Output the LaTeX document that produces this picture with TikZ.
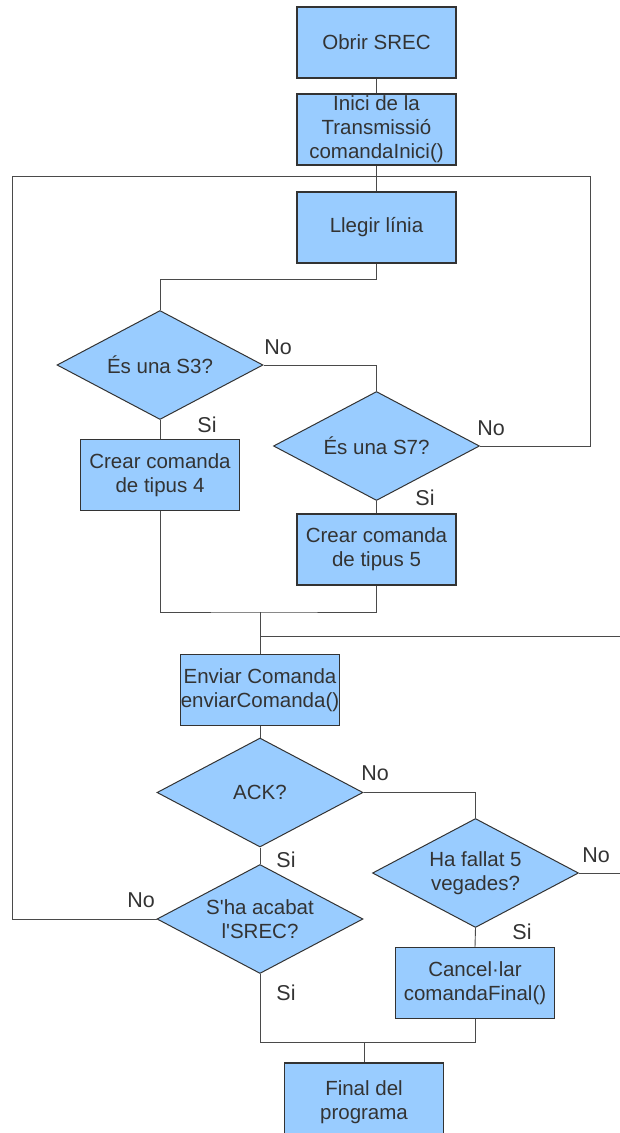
\documentclass[tikz,border=0pt]{standalone}
\usepackage{fontspec}
\setmainfont{Liberation Sans}
\usetikzlibrary{shapes.geometric}
\definecolor{boxblue}{HTML}{99CCFF}
\definecolor{ink}{HTML}{333333}
\definecolor{wire}{HTML}{4A4A4A}
\begin{document}
\begin{tikzpicture}[x=1pt,y=-1pt,
  every node/.style={text=ink,font=\fontsize{20.5}{24}\selectfont},
  stepbox/.style={draw=ink,line width=1.1pt,fill=boxblue,minimum width=159pt,
    minimum height=71pt,inner sep=0pt,align=center},
  decision/.style={draw=ink,line width=1pt,fill=boxblue,diamond,shape aspect=1.9,
    minimum width=206pt,minimum height=109pt,inner sep=0pt,align=center},
  answer/.style={font=\fontsize{21.5}{24}\selectfont,inner sep=0pt},
  wire/.style={draw=wire,line width=0.9pt}]
\useasboundingbox (0,0) rectangle (620,1133);

% process boxes
\node[stepbox] (obrir)  at (376.5,42.5) {Obrir SREC};
\node[stepbox] (inici)  at (376.5,129.5) {Inici de la\\Transmissió\\comandaInici()};
\node[stepbox] (llegir) at (376.5,227.5) {Llegir línia};
\node[stepbox] (crear4) at (160,475) {Crear comanda\\de tipus 4};
\node[stepbox] (crear5) at (376.5,549.5) {Crear comanda\\de tipus 5};
\node[stepbox] (enviar) at (260,690) {Enviar Comanda\\enviarComanda()};
\node[stepbox] (cancel) at (475,983) {Cancel·lar\\comandaFinal()};
\node[stepbox,minimum height=78pt] (final) at (364,1102) {Final del\\programa};

% decisions
\node[decision] (s3)   at (160,365)   {És una S3?};
\node[decision] (s7)   at (376.5,446) {És una S7?};
\node[decision] (ack)  at (260,792.5) {ACK?};
\node[decision] (acab) at (260,919)   {S\textquotesingle ha acabat\\l\textquotesingle SREC?};
\node[decision] (fail) at (475.5,873) {Ha fallat 5\\vegades?};

% junction and edge points
\coordinate (loopTR) at (590,176);
\coordinate (loopTL) at (12,176);
\coordinate (loopBL) at (12,919);
\coordinate (mergeA) at (260,612);
\coordinate (retry)  at (260,636);
\coordinate (retryE) at (620,636);
\coordinate (failE)  at (620,873);
\coordinate (mergeB) at (364,1042);

% connectors
\draw[wire] (obrir.south) -- (inici.north);
\draw[wire] (inici.south) -- (llegir.north);
\draw[wire] (llegir.south) -- ++(0,16) -| (s3.north);
\draw[wire] (s3.east) -| (s7.north);
\draw[wire] (s3.south) -- (crear4.north);
\draw[wire] (s7.south) -- (crear5.north);
\draw[wire] (s7.east) -| (loopTR) -- (loopTL) -- (loopBL) -- (acab.west);
\draw[wire] (crear4.south) |- (mergeA) -| (crear5.south);
\draw[wire] (mergeA) -- (enviar.north);
\draw[wire] (retry) -- (retryE);
\draw[wire] (enviar.south) -- (ack.north);
\draw[wire] (ack.south) -- (acab.north);
\draw[wire] (ack.east) -| (fail.north);
\draw[wire] (fail.east) -- (failE);
\draw[wire] (fail.south) -- (cancel.north);
\draw[wire] (acab.south) |- (mergeB) -| (cancel.south);
\draw[wire] (mergeB) -- (final.north);

% branch labels
\node[answer] (s3no)   at (278,347) {No};
\node[answer] (s3si)   at (207,425) {Si};
\node[answer] (s7no)   at (491,428) {No};
\node[answer] (s7si)   at (425,498) {Si};
\node[answer] (ackno)  at (375,773) {No};
\node[answer] (acksi)  at (286,860) {Si};
\node[answer] (failno) at (596,855) {No};
\node[answer] (acabno) at (141,900) {No};
\node[answer] (failsi) at (522,932) {Si};
\node[answer] (acabsi) at (286,993) {Si};
\end{tikzpicture}
\end{document}
